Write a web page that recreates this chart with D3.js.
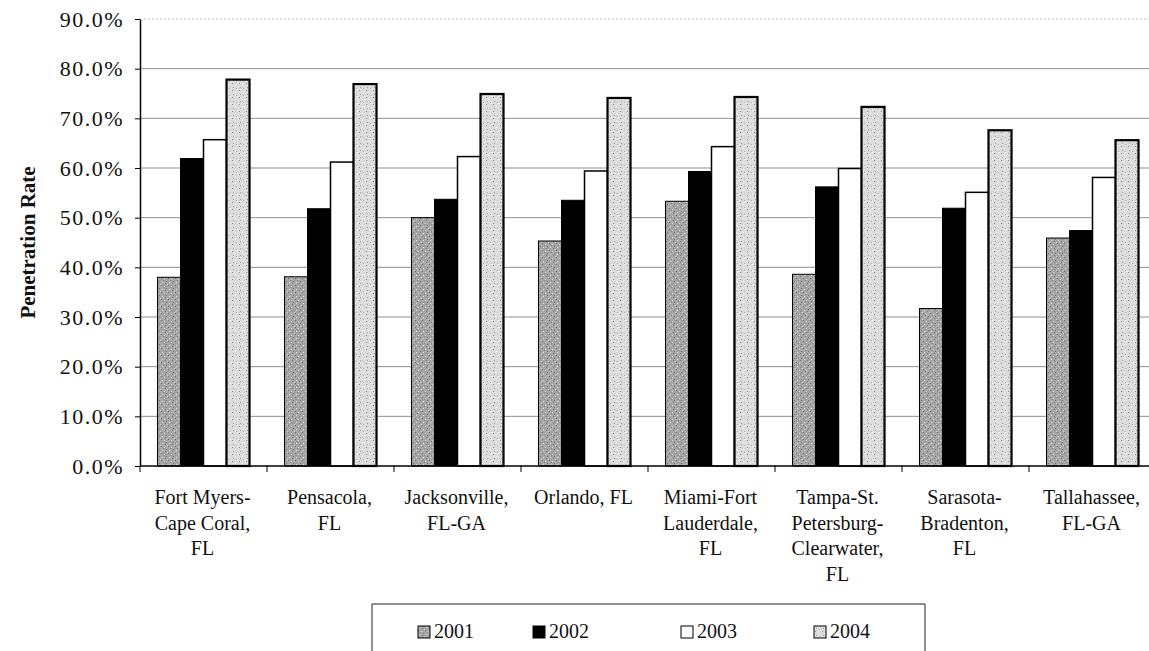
<!DOCTYPE html>
<html>
<head>
<meta charset="utf-8">
<script src="https://cdn.jsdelivr.net/npm/d3@7"></script>
<style>
  body { margin: 0; background: #fff; }
  svg text { font-family: "Liberation Serif", "DejaVu Serif", "Times New Roman", serif; }
</style>
</head>
<body>
<div id="chart"></div>
<script>
// Data
const metros = [
  ["Fort Myers-", "Cape Coral,", "FL"],
  ["Pensacola,", "FL"],
  ["Jacksonville,", "FL-GA"],
  ["Orlando, FL"],
  ["Miami-Fort", "Lauderdale,", "FL"],
  ["Tampa-St.", "Petersburg-", "Clearwater,", "FL"],
  ["Sarasota-", "Bradenton,", "FL"],
  ["Tallahassee,", "FL-GA"]
];
const years = ["2001", "2002", "2003", "2004"];
const rate2001 = [0.380, 0.381, 0.500, 0.453, 0.533, 0.386, 0.317, 0.459];
const rate2002 = [0.619, 0.518, 0.537, 0.535, 0.593, 0.562, 0.519, 0.474];
const rate2003 = [0.657, 0.612, 0.623, 0.594, 0.643, 0.599, 0.551, 0.581];
const rate2004 = [0.778, 0.769, 0.749, 0.741, 0.743, 0.723, 0.676, 0.656];
const yTicks = [0, 0.1, 0.2, 0.3, 0.4, 0.5, 0.6, 0.7, 0.8, 0.9];

const series = [rate2001, rate2002, rate2003, rate2004];
const serif = "Liberation Serif, DejaVu Serif, serif";

const width = 1149, height = 651;
const margin = { top: 19, left: 140, bottom: 185 };
const plotW = 127 * metros.length;
const plotH = height - margin.top - margin.bottom;

const svg = d3.select("#chart").append("svg")
  .attr("width", width)
  .attr("height", height)
  .attr("font-family", serif);

// speckled fills to mimic the scanned shading
const defs = svg.append("defs");
function speckle(id, base, dots) {
  const p = defs.append("pattern")
    .attr("id", id)
    .attr("patternUnits", "userSpaceOnUse")
    .attr("width", 7).attr("height", 7);
  p.append("rect").attr("width", 7).attr("height", 7).attr("fill", base);
  dots.forEach(d => {
    p.append("rect").attr("x", d[0]).attr("y", d[1]).attr("width", 1).attr("height", 1).attr("fill", d[2]);
  });
}
speckle("fill2001", "#a6a6a6", [[0, 0, "#6a6a6a"], [3, 1, "#d8d8d8"], [5, 3, "#707070"], [1, 4, "#e0e0e0"], [4, 5, "#7a7a7a"], [6, 6, "#cfcfcf"], [2, 2, "#888"]]);
speckle("fill2004", "#dcdcdc", [[1, 1, "#8a8a8a"], [4, 3, "#f4f4f4"], [2, 5, "#a0a0a0"], [6, 0, "#ffffff"], [5, 6, "#b0b0b0"]]);

const fills = ["url(#fill2001)", "#000", "#fff", "url(#fill2004)"];
const strokes = [1, 1, 1.5, 2.2];

const g = svg.append("g").attr("transform", `translate(${margin.left},${margin.top})`);

const x0 = d3.scaleBand().domain(d3.range(metros.length)).range([0, plotW]);
const x1 = d3.scaleBand().domain(years).range([0, x0.bandwidth()]).paddingOuter(0.76);
const y = d3.scaleLinear().domain([0, 0.9]).range([plotH, 0]);

// gridlines
g.append("g")
  .selectAll("line")
  .data(yTicks.slice(1))
  .join("line")
  .attr("x1", 0).attr("x2", plotW)
  .attr("y1", d => y(d)).attr("y2", d => y(d))
  .attr("stroke", d => d === 0.9 ? "#bbb" : "#8f8f8f")
  .attr("stroke-width", 1)
  .attr("stroke-dasharray", d => d === 0.9 ? "2,2" : null);

// bars
const groups = g.append("g")
  .selectAll("g")
  .data(metros.map((m, i) => i))
  .join("g")
  .attr("transform", i => `translate(${x0(i)},0)`);

groups.selectAll("rect")
  .data(i => series.map((s, k) => ({ k, v: s[i] })))
  .join("rect")
  .attr("x", d => x1(years[d.k]))
  .attr("y", d => y(d.v))
  .attr("width", x1.bandwidth())
  .attr("height", d => plotH - y(d.v))
  .attr("fill", d => fills[d.k])
  .attr("stroke", "#000")
  .attr("stroke-width", d => strokes[d.k]);

// y axis
const yAxis = g.append("g")
  .call(d3.axisLeft(y).tickValues(yTicks).tickFormat(d3.format(".1%")).tickSize(5).tickSizeOuter(0))
  .attr("font-family", serif)
  .attr("font-size", 22);
yAxis.select(".domain").attr("stroke", "#000").attr("stroke-width", 1.5);
yAxis.selectAll(".tick line").attr("stroke", "#000");
yAxis.selectAll("text")
  .attr("x", -16)
  .attr("letter-spacing", 1.5)
  .attr("fill", "#111");

// x axis
const xAxis = g.append("g")
  .attr("transform", `translate(0,${plotH})`);
xAxis.append("line")
  .attr("x1", 0).attr("x2", plotW)
  .attr("stroke", "#000").attr("stroke-width", 1.5);
xAxis.selectAll(".xtick")
  .data(d3.range(metros.length + 1))
  .join("line")
  .attr("class", "xtick")
  .attr("x1", i => i * x0.step()).attr("x2", i => i * x0.step())
  .attr("y1", 0).attr("y2", 6)
  .attr("stroke", "#000");

const labels = xAxis.selectAll(".xlabel")
  .data(metros)
  .join("text")
  .attr("class", "xlabel")
  .attr("text-anchor", "middle")
  .attr("fill", "#111")
  .attr("font-size", 20)
  .attr("transform", (d, i) => `translate(${x0(i) + x0.bandwidth() / 2 - 1},0)`);
labels.selectAll("tspan")
  .data(d => d)
  .join("tspan")
  .attr("x", 0)
  .attr("y", (d, j) => 38 + j * 25.5)
  .text(d => d);

// y axis title
svg.append("text")
  .attr("transform", `translate(35,${margin.top + plotH / 2}) rotate(-90)`)
  .attr("text-anchor", "middle")
  .attr("font-weight", "bold")
  .attr("font-size", 21)
  .attr("fill", "#111")
  .text("Penetration Rate");

// legend
const legendX = [418, 533, 681, 814];
const legend = svg.append("g");
legend.append("path")
  .attr("d", "M372,651 V604 H925 V651")
  .attr("fill", "none")
  .attr("stroke", "#222")
  .attr("stroke-width", 1);
const items = legend.selectAll(".item")
  .data(years)
  .join("g")
  .attr("class", "item")
  .attr("transform", (d, i) => `translate(${legendX[i]},637)`);
items.append("rect")
  .attr("x", 0).attr("y", -11)
  .attr("width", 12).attr("height", 12)
  .attr("fill", (d, i) => fills[i])
  .attr("stroke", "#000")
  .attr("stroke-width", 1);
items.append("text")
  .attr("x", 16).attr("y", 1)
  .attr("fill", "#111")
  .attr("font-size", 20)
  .text(d => d);
</script>
</body>
</html>
